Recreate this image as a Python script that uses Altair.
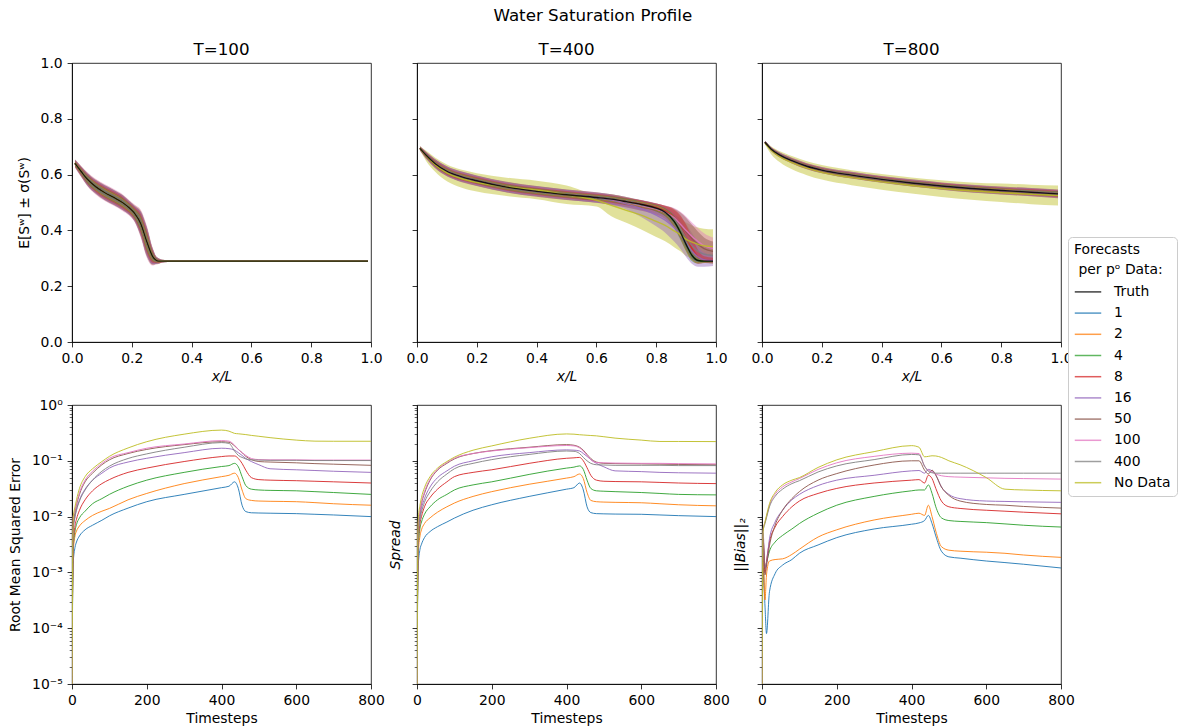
import altair as alt
import pandas as pd

FONT = "DejaVu Sans"

# Forecast groups (number of forecasts per pressure data point) and their colours
SERIES = ["1", "2", "4", "8", "16", "50", "100", "400", "No Data"]
PALETTE = ["#1f77b4", "#ff7f0e", "#2ca02c", "#d62728", "#9467bd",
           "#8c564b", "#e377c2", "#7f7f7f", "#bcbd22"]
DOMAIN = ["Truth"] + SERIES
RANGE = ["#000000"] + PALETTE

# ---------------- water saturation profiles: T = 100 ----------------
X100 = [0.01, 0.03, 0.05, 0.08, 0.11, 0.14, 0.17, 0.19, 0.21, 0.23, 0.25,
        0.27, 0.28, 0.29, 0.30, 0.32, 0.35, 0.99]
TRUTH100 = [0.640, 0.612, 0.585, 0.556, 0.535, 0.518, 0.499, 0.482, 0.460,
            0.424, 0.360, 0.306, 0.294, 0.290, 0.290, 0.290, 0.290, 0.290]
MEAN100 = {}
SD100 = {
    "1":   [0.005, 0.007, 0.009, 0.010, 0.010, 0.010, 0.010, 0.010, 0.011, 0.018, 0.020, 0.011, 0.006, 0.003, 0.002, 0.001, 0, 0],
    "2":   [0.007, 0.009, 0.011, 0.013, 0.013, 0.013, 0.013, 0.013, 0.014, 0.022, 0.026, 0.014, 0.007, 0.004, 0.003, 0.001, 0, 0],
    "4":   [0.008, 0.011, 0.014, 0.015, 0.016, 0.016, 0.016, 0.015, 0.017, 0.027, 0.032, 0.017, 0.009, 0.005, 0.003, 0.002, 0, 0],
    "8":   [0.010, 0.014, 0.017, 0.019, 0.021, 0.021, 0.021, 0.019, 0.022, 0.035, 0.040, 0.022, 0.011, 0.007, 0.004, 0.002, 0.001, 0],
    "16":  [0.013, 0.017, 0.021, 0.024, 0.026, 0.026, 0.026, 0.024, 0.027, 0.043, 0.050, 0.027, 0.014, 0.009, 0.005, 0.003, 0.001, 0],
    "50":  [0.013, 0.017, 0.021, 0.024, 0.026, 0.026, 0.026, 0.024, 0.027, 0.043, 0.050, 0.027, 0.014, 0.009, 0.005, 0.003, 0.001, 0],
    "100": [0.015, 0.020, 0.025, 0.028, 0.030, 0.030, 0.030, 0.028, 0.032, 0.050, 0.058, 0.032, 0.016, 0.010, 0.006, 0.003, 0.001, 0],
    "400": [0.013, 0.017, 0.021, 0.024, 0.026, 0.026, 0.026, 0.024, 0.027, 0.043, 0.050, 0.027, 0.014, 0.009, 0.005, 0.003, 0.001, 0],
    "No Data": [0.014, 0.019, 0.023, 0.026, 0.028, 0.028, 0.028, 0.026, 0.030, 0.047, 0.054, 0.030, 0.015, 0.010, 0.006, 0.003, 0.001, 0],
}

# ---------------- water saturation profiles: T = 400 ----------------
X400 = [0.01, 0.03, 0.06, 0.10, 0.15, 0.20, 0.30, 0.40, 0.50, 0.60, 0.65,
        0.70, 0.75, 0.80, 0.83, 0.86, 0.88, 0.90, 0.92, 0.94, 0.96, 0.99]
TRUTH400 = [0.694, 0.670, 0.640, 0.612, 0.592, 0.578, 0.555, 0.540, 0.528, 0.518, 0.512,
            0.503, 0.493, 0.480, 0.465, 0.432, 0.395, 0.350, 0.310, 0.292, 0.290, 0.290]
MEAN400 = {
    "8":   [0.694, 0.670, 0.640, 0.612, 0.592, 0.578, 0.555, 0.540, 0.528, 0.518, 0.512,
            0.503, 0.494, 0.482, 0.470, 0.445, 0.415, 0.375, 0.335, 0.305, 0.295, 0.292],
    "16":  [0.694, 0.670, 0.640, 0.612, 0.592, 0.578, 0.555, 0.540, 0.528, 0.517, 0.509,
            0.495, 0.478, 0.455, 0.437, 0.410, 0.385, 0.355, 0.325, 0.305, 0.295, 0.292],
    "50":  [0.694, 0.670, 0.640, 0.612, 0.592, 0.578, 0.555, 0.540, 0.528, 0.518, 0.511,
            0.501, 0.489, 0.476, 0.464, 0.443, 0.420, 0.395, 0.370, 0.350, 0.335, 0.325],
    "100": [0.694, 0.670, 0.640, 0.612, 0.592, 0.578, 0.555, 0.540, 0.528, 0.518, 0.511,
            0.501, 0.489, 0.476, 0.465, 0.445, 0.423, 0.400, 0.378, 0.360, 0.345, 0.335],
    "400": [0.694, 0.670, 0.640, 0.612, 0.592, 0.578, 0.555, 0.540, 0.528, 0.518, 0.512,
            0.502, 0.491, 0.478, 0.465, 0.440, 0.410, 0.375, 0.345, 0.325, 0.315, 0.310],
    "No Data": [0.694, 0.668, 0.636, 0.606, 0.585, 0.572, 0.556, 0.545, 0.528, 0.508, 0.490,
                0.472, 0.455, 0.432, 0.418, 0.398, 0.385, 0.368, 0.358, 0.350, 0.345, 0.342],
}
SD400 = {
    "1":   [0.003, 0.004, 0.005, 0.006, 0.006, 0.006, 0.006, 0.006, 0.006, 0.006, 0.006,
            0.006, 0.006, 0.006, 0.008, 0.012, 0.015, 0.016, 0.013, 0.006, 0.003, 0.002],
    "2":   [0.004, 0.005, 0.007, 0.008, 0.008, 0.008, 0.008, 0.008, 0.008, 0.008, 0.008,
            0.008, 0.009, 0.009, 0.011, 0.016, 0.020, 0.021, 0.017, 0.008, 0.004, 0.003],
    "4":   [0.005, 0.007, 0.009, 0.010, 0.010, 0.010, 0.010, 0.010, 0.010, 0.010, 0.010,
            0.011, 0.011, 0.012, 0.014, 0.020, 0.025, 0.026, 0.021, 0.011, 0.006, 0.004],
    "8":   [0.006, 0.009, 0.011, 0.013, 0.013, 0.013, 0.013, 0.013, 0.013, 0.013, 0.013,
            0.013, 0.014, 0.014, 0.018, 0.030, 0.040, 0.045, 0.040, 0.025, 0.012, 0.010],
    "16":  [0.007, 0.011, 0.014, 0.016, 0.017, 0.017, 0.017, 0.017, 0.017, 0.017, 0.018,
            0.020, 0.030, 0.040, 0.045, 0.050, 0.050, 0.050, 0.045, 0.035, 0.025, 0.020],
    "50":  [0.008, 0.012, 0.016, 0.018, 0.019, 0.019, 0.019, 0.019, 0.019, 0.019, 0.019,
            0.019, 0.019, 0.020, 0.024, 0.035, 0.045, 0.050, 0.050, 0.045, 0.040, 0.035],
    "100": [0.008, 0.012, 0.016, 0.018, 0.019, 0.019, 0.019, 0.019, 0.019, 0.019, 0.019,
            0.019, 0.019, 0.020, 0.024, 0.035, 0.045, 0.050, 0.050, 0.048, 0.045, 0.040],
    "400": [0.007, 0.011, 0.015, 0.017, 0.018, 0.018, 0.018, 0.018, 0.018, 0.018, 0.018,
            0.018, 0.018, 0.019, 0.022, 0.032, 0.042, 0.048, 0.045, 0.035, 0.030, 0.028],
    "No Data": [0.008, 0.018, 0.025, 0.030, 0.032, 0.033, 0.033, 0.033, 0.033, 0.022, 0.039,
                0.045, 0.052, 0.056, 0.057, 0.058, 0.059, 0.060, 0.060, 0.060, 0.061, 0.062],
}

# ---------------- water saturation profiles: T = 800 ----------------
X800 = [0.01, 0.03, 0.06, 0.10, 0.15, 0.20, 0.30, 0.40, 0.50, 0.60, 0.70, 0.80, 0.90, 0.99]
TRUTH800 = [0.716, 0.692, 0.670, 0.650, 0.630, 0.616, 0.598, 0.583, 0.570, 0.559,
            0.550, 0.543, 0.537, 0.531]
MEAN800 = {
    "No Data": [0.714, 0.688, 0.664, 0.643, 0.623, 0.608, 0.589, 0.574, 0.561, 0.550,
                0.541, 0.535, 0.529, 0.525],
}
SD800 = {
    "1":   [0.002, 0.003, 0.004, 0.004, 0.004, 0.004, 0.004, 0.004, 0.004, 0.004, 0.004, 0.004, 0.005, 0.005],
    "2":   [0.002, 0.003, 0.004, 0.005, 0.005, 0.005, 0.005, 0.005, 0.005, 0.005, 0.006, 0.006, 0.006, 0.006],
    "4":   [0.003, 0.004, 0.005, 0.006, 0.006, 0.006, 0.007, 0.007, 0.007, 0.007, 0.008, 0.008, 0.008, 0.009],
    "8":   [0.003, 0.005, 0.006, 0.007, 0.008, 0.008, 0.009, 0.009, 0.009, 0.010, 0.010, 0.010, 0.011, 0.011],
    "16":  [0.004, 0.006, 0.007, 0.008, 0.009, 0.009, 0.010, 0.010, 0.011, 0.011, 0.012, 0.012, 0.013, 0.013],
    "50":  [0.004, 0.007, 0.009, 0.010, 0.011, 0.011, 0.012, 0.012, 0.013, 0.013, 0.014, 0.014, 0.015, 0.016],
    "100": [0.004, 0.007, 0.009, 0.010, 0.011, 0.011, 0.012, 0.012, 0.013, 0.013, 0.014, 0.014, 0.015, 0.016],
    "400": [0.004, 0.006, 0.008, 0.009, 0.010, 0.010, 0.011, 0.011, 0.012, 0.012, 0.013, 0.013, 0.014, 0.014],
    "No Data": [0.006, 0.014, 0.020, 0.024, 0.025, 0.026, 0.027, 0.028, 0.029, 0.030, 0.031, 0.033, 0.035, 0.036],
}

# ---------------- error statistics over time ----------------
TSTEPS = [0, 3, 8, 12, 20, 35, 55, 80, 100, 150, 200, 300, 400, 420, 435, 445, 455,
          465, 480, 500, 530, 600, 650, 700, 800]

RMSE = {
    "1":   [1e-5, 0.0014, 0.0028, 0.0035, 0.0045, 0.0058, 0.0070, 0.0086, 0.0103, 0.0142, 0.0185, 0.025, 0.033,
            0.035, 0.042, 0.032, 0.016, 0.0123, 0.0117, 0.0116, 0.0115, 0.0113, 0.0110, 0.0107, 0.0100],
    "2":   [1e-5, 0.0022, 0.0045, 0.0055, 0.0068, 0.0085, 0.0105, 0.0125, 0.0140, 0.020, 0.026, 0.039, 0.052,
            0.055, 0.060, 0.050, 0.030, 0.021, 0.0195, 0.0190, 0.0188, 0.0185, 0.0178, 0.0170, 0.0160],
    "4":   [1e-5, 0.0025, 0.0055, 0.0072, 0.0095, 0.0125, 0.017, 0.021, 0.025, 0.035, 0.045, 0.062, 0.079,
            0.082, 0.090, 0.078, 0.052, 0.036, 0.031, 0.030, 0.0295, 0.029, 0.028, 0.027, 0.025],
    "8":   [1e-5, 0.0029, 0.0068, 0.009, 0.013, 0.020, 0.029, 0.039, 0.046, 0.062, 0.074, 0.097, 0.119,
            0.122, 0.122, 0.110, 0.090, 0.068, 0.050, 0.046, 0.045, 0.044, 0.043, 0.042, 0.040],
    "16":  [1e-5, 0.0050, 0.010, 0.0135, 0.020, 0.031, 0.045, 0.060, 0.074, 0.095, 0.111, 0.140, 0.168,
            0.165, 0.155, 0.140, 0.125, 0.110, 0.097, 0.085, 0.072, 0.069, 0.067, 0.065, 0.062],
    "50":  [1e-5, 0.0066, 0.012, 0.016, 0.025, 0.042, 0.060, 0.085, 0.104, 0.135, 0.160, 0.195, 0.220,
            0.215, 0.185, 0.160, 0.140, 0.120, 0.105, 0.097, 0.095, 0.092, 0.089, 0.087, 0.083],
    "100": [1e-5, 0.010, 0.013, 0.017, 0.027, 0.045, 0.065, 0.090, 0.111, 0.140, 0.168, 0.200, 0.230,
            0.225, 0.190, 0.160, 0.140, 0.125, 0.110, 0.105, 0.104, 0.104, 0.103, 0.103, 0.103],
    "400": [1e-5, 0.0058, 0.010, 0.013, 0.019, 0.030, 0.045, 0.065, 0.080, 0.110, 0.133, 0.175, 0.212,
            0.205, 0.150, 0.125, 0.115, 0.108, 0.104, 0.103, 0.102, 0.102, 0.101, 0.101, 0.101],
    "No Data": [1e-5, 0.009, 0.015, 0.020, 0.032, 0.052, 0.072, 0.097, 0.120, 0.170, 0.220, 0.300, 0.355,
                0.340, 0.310, 0.305, 0.300, 0.295, 0.285, 0.275, 0.260, 0.235, 0.225, 0.224, 0.224],
}

SPREAD = {
    "1":   [1e-5, 0.0012, 0.0026, 0.0032, 0.0042, 0.0054, 0.0066, 0.0080, 0.0094, 0.0130, 0.0163, 0.023, 0.031,
            0.033, 0.040, 0.030, 0.015, 0.0118, 0.0113, 0.0112, 0.0111, 0.0110, 0.0107, 0.0104, 0.0100],
    "2":   [1e-5, 0.0020, 0.0045, 0.0058, 0.0075, 0.0095, 0.012, 0.015, 0.0175, 0.023, 0.028, 0.038, 0.049,
            0.052, 0.058, 0.048, 0.027, 0.0195, 0.0185, 0.0182, 0.0180, 0.0177, 0.0170, 0.0163, 0.0156],
    "4":   [1e-5, 0.0025, 0.0062, 0.008, 0.011, 0.015, 0.020, 0.025, 0.030, 0.037, 0.042, 0.057, 0.074,
            0.077, 0.081, 0.070, 0.045, 0.032, 0.029, 0.0285, 0.028, 0.027, 0.026, 0.025, 0.0245],
    "8":   [1e-5, 0.0030, 0.0075, 0.010, 0.015, 0.022, 0.031, 0.042, 0.052, 0.062, 0.069, 0.090, 0.111,
            0.113, 0.115, 0.100, 0.075, 0.055, 0.045, 0.043, 0.0425, 0.042, 0.041, 0.040, 0.039],
    "16":  [1e-5, 0.0045, 0.010, 0.014, 0.021, 0.034, 0.050, 0.066, 0.080, 0.100, 0.118, 0.140, 0.157,
            0.155, 0.150, 0.135, 0.120, 0.105, 0.090, 0.078, 0.066, 0.064, 0.062, 0.061, 0.060],
    "50":  [1e-5, 0.0060, 0.012, 0.017, 0.026, 0.045, 0.068, 0.090, 0.108, 0.135, 0.152, 0.175, 0.195,
            0.190, 0.175, 0.155, 0.130, 0.110, 0.095, 0.090, 0.089, 0.088, 0.087, 0.086, 0.085],
    "100": [1e-5, 0.0070, 0.013, 0.018, 0.028, 0.047, 0.070, 0.093, 0.111, 0.135, 0.150, 0.172, 0.188,
            0.185, 0.170, 0.150, 0.125, 0.105, 0.093, 0.092, 0.091, 0.090, 0.090, 0.089, 0.088],
    "400": [1e-5, 0.0040, 0.009, 0.012, 0.018, 0.028, 0.042, 0.058, 0.072, 0.090, 0.105, 0.130, 0.150,
            0.148, 0.135, 0.115, 0.100, 0.090, 0.085, 0.084, 0.083, 0.083, 0.083, 0.082, 0.082],
    "No Data": [1e-5, 0.0085, 0.016, 0.022, 0.033, 0.052, 0.074, 0.097, 0.116, 0.155, 0.185, 0.253, 0.303,
                0.300, 0.293, 0.290, 0.287, 0.284, 0.280, 0.270, 0.255, 0.235, 0.222, 0.222, 0.221],
}

BIAS = {
    "1":   [1e-5, 0.0012, 0.00025, 0.00008, 0.00045, 0.00095, 0.00135, 0.0017, 0.0022, 0.0031, 0.0042, 0.0060,
            0.0073, 0.0077, 0.0085, 0.0105, 0.0075, 0.0045, 0.0024, 0.0019, 0.0018, 0.0016, 0.0015, 0.0014, 0.0012],
    "2":   [1e-5, 0.0020, 0.00032, 0.0009, 0.0016, 0.0017, 0.00175, 0.0021, 0.0026, 0.0043, 0.0058, 0.0087,
            0.0110, 0.0115, 0.0105, 0.0160, 0.0100, 0.0055, 0.0029, 0.0025, 0.0024, 0.0023, 0.0022, 0.00205, 0.00186],
    "4":   [1e-5, 0.0030, 0.0012, 0.0015, 0.0024, 0.0035, 0.0046, 0.0060, 0.0075, 0.0115, 0.0160, 0.0230,
            0.0290, 0.0300, 0.0300, 0.0370, 0.0260, 0.0150, 0.0095, 0.0085, 0.0082, 0.0078, 0.0074, 0.0070, 0.0065],
    "8":   [1e-5, 0.0040, 0.0010, 0.0016, 0.0035, 0.0065, 0.0100, 0.0150, 0.0190, 0.0260, 0.0320, 0.0400,
            0.0450, 0.0460, 0.0400, 0.0550, 0.0480, 0.0320, 0.0190, 0.0150, 0.0140, 0.0130, 0.0125, 0.0120, 0.0112],
    "16":  [1e-5, 0.0050, 0.0012, 0.0015, 0.0040, 0.0080, 0.0130, 0.0200, 0.0250, 0.0360, 0.0450, 0.0550,
            0.0660, 0.0670, 0.0600, 0.0700, 0.0660, 0.0560, 0.0340, 0.0250, 0.0210, 0.0190, 0.0187, 0.0184, 0.0180],
    "50":  [1e-5, 0.0040, 0.0009, 0.0013, 0.0030, 0.0070, 0.0130, 0.0210, 0.0280, 0.0450, 0.0590, 0.0840,
            0.1000, 0.1000, 0.0680, 0.0580, 0.0680, 0.0550, 0.0340, 0.0240, 0.0190, 0.0165, 0.0160, 0.0152, 0.0142],
    "100": [1e-5, 0.0060, 0.0080, 0.0100, 0.0160, 0.0250, 0.0340, 0.0420, 0.0480, 0.0700, 0.0920, 0.1200,
            0.1370, 0.1350, 0.0800, 0.0680, 0.0630, 0.0580, 0.0540, 0.0520, 0.0510, 0.0495, 0.0485, 0.0480, 0.0470],
    "400": [1e-5, 0.0055, 0.0075, 0.0095, 0.0150, 0.0230, 0.0310, 0.0390, 0.0440, 0.0630, 0.0810, 0.1050,
            0.1300, 0.1280, 0.0800, 0.0650, 0.0610, 0.0600, 0.0600, 0.0600, 0.0600, 0.0600, 0.0600, 0.0600, 0.0600],
    "No Data": [1e-5, 0.0055, 0.0080, 0.0105, 0.0170, 0.0270, 0.0370, 0.0450, 0.0500, 0.0760, 0.1040, 0.1460,
                0.1870, 0.1750, 0.1180, 0.1200, 0.1230, 0.1220, 0.1150, 0.1000, 0.0850, 0.0500, 0.0310, 0.0300, 0.0290],
}

PANEL_W, PANEL_H = 299, 279
TICK = 4.9
MINOR_TICK = 2.8

color = alt.Color(
    "series:N",
    scale=alt.Scale(domain=DOMAIN, range=RANGE),
    legend=alt.Legend(title=["Forecasts", "\u200b per pᵒ Data:"]),
)


def profile_panel(x, truth, means, sds, title, first):
    band_rows, line_rows = [], []
    # widest groups first so the narrower envelopes sit on top
    for s in reversed(SERIES):
        m = means.get(s, truth)
        for xi, mi, si in zip(x, m, sds[s]):
            band_rows.append({"x": xi, "lo": mi - si, "hi": mi + si, "series": s})
    for s in SERIES:
        m = means.get(s, truth)
        for xi, mi in zip(x, m):
            line_rows.append({"x": xi, "y": mi, "series": s})
    for xi, ti in zip(x, truth):
        line_rows.append({"x": xi, "y": ti, "series": "Truth"})

    xenc = alt.X("x:Q", scale=alt.Scale(domain=[0, 1], nice=False, zero=False),
                 axis=alt.Axis(values=[0, 0.2, 0.4, 0.6, 0.8, 1.0], format=".1f",
                               title="x/L", titleFontStyle="italic"))
    # the shared-y panels keep (invisible) labels so all three titles line up
    yaxis = alt.Axis(values=[0, 0.2, 0.4, 0.6, 0.8, 1.0], format=".1f",
                     labelOpacity=1 if first else 0,
                     title="E[Sʷ] ± σ(Sʷ)" if first else "")
    yscale = alt.Scale(domain=[0, 1], nice=False)

    band = alt.Chart(pd.DataFrame(band_rows)).mark_area(
        opacity=0.45, interpolate="monotone", clip=True
    ).encode(x=xenc, y=alt.Y("lo:Q", scale=yscale, axis=yaxis), y2="hi:Q", color=color)
    lines = alt.Chart(pd.DataFrame(line_rows)).mark_line(
        strokeWidth=1.4, opacity=0.85, interpolate="monotone", clip=True
    ).encode(x=xenc, y=alt.Y("y:Q", scale=yscale, axis=yaxis), color=color)
    return alt.layer(band, lines).properties(
        width=PANEL_W, height=PANEL_H,
        title=alt.TitleParams(title, fontSize=16.7, fontWeight="normal",
                              baseline="alphabetic", offset=6.6, dy=22.7),
    )


SUP = {0: "⁰", 1: "¹", 2: "²", 3: "³", 4: "⁴", 5: "⁵"}
EXPO = "round(log(datum.value)/LN10)"
IS_DECADE = f"abs(log(datum.value)/LN10 - {EXPO}) < 0.01"
LABEL_EXPR = "''"
for e in range(5, -1, -1):
    txt = "10" + ("⁻" if e > 0 else "") + SUP[e]
    LABEL_EXPR = f"{EXPO} == {-e} ? '{txt}' : ({LABEL_EXPR})"
LABEL_EXPR = f"{IS_DECADE} ? ({LABEL_EXPR}) : ''"
LOG_TICKS = [m * 10.0 ** e for e in range(-5, 0) for m in range(1, 10)] + [1.0]


def metric_panel(values, ytitle, first, italic):
    rows = []
    for s in SERIES:
        for t, v in zip(TSTEPS, values[s]):
            rows.append({"t": t, "v": v, "series": s})
    yaxis = alt.Axis(
        values=LOG_TICKS, labelExpr=LABEL_EXPR, labels=first, title=ytitle,
        titleFontStyle="italic" if italic else "normal",
        tickSize={"condition": {"test": IS_DECADE, "value": TICK}, "value": MINOR_TICK},
        tickWidth={"condition": {"test": IS_DECADE, "value": 0.8}, "value": 0.6},
    )
    return alt.Chart(pd.DataFrame(rows)).mark_line(
        strokeWidth=1.0, opacity=0.9, interpolate="monotone", clip=True
    ).encode(
        x=alt.X("t:Q", scale=alt.Scale(domain=[0, 800], nice=False),
                axis=alt.Axis(values=[0, 200, 400, 600, 800], format="d", title="Timesteps")),
        y=alt.Y("v:Q", scale=alt.Scale(type="log", domain=[1e-5, 1], nice=False), axis=yaxis),
        color=color,
    ).properties(width=PANEL_W, height=PANEL_H)


chart = alt.concat(
    profile_panel(X100, TRUTH100, MEAN100, SD100, "T=100", True),
    profile_panel(X400, TRUTH400, MEAN400, SD400, "T=400", False),
    profile_panel(X800, TRUTH800, MEAN800, SD800, "T=800", False),
    metric_panel(RMSE, "Root Mean Squared Error", True, False),
    metric_panel(SPREAD, "Spread", False, True),
    metric_panel(BIAS, "||Bias||₂", False, True),
    columns=3, spacing={"row": 63, "column": 46}, bounds="flush",
).properties(
    title=alt.TitleParams("Water Saturation Profile", fontSize=16.7, fontWeight="normal",
                          anchor="middle", offset=17),
    padding={"left": 8, "top": 8, "right": 0, "bottom": 0},
).configure(font=FONT).configure_view(
    stroke="black", strokeWidth=0.8
).configure_axis(
    labelFont=FONT, titleFont=FONT, labelFontSize=13.9, titleFontSize=13.9,
    titleFontWeight="normal", labelColor="black", titleColor="black",
    tickColor="black", domainColor="black", tickWidth=0.8, domainWidth=0.8,
    tickSize=TICK, labelPadding=4.9, titlePadding=5.6, grid=False,
    labelFlush=False, labelOverlap=False,
).configure_axisX(
    titlePadding=3.5
).configure_axisY(
    titlePadding=9
).configure_title(
    font=FONT, color="black"
).configure_legend(
    orient="none", legendX=996, legendY=174,
    fillColor="white", strokeColor="#cccccc", cornerRadius=4, padding=6,
    titleFont=FONT, titleFontSize=13.9, titleFontWeight="normal", titleColor="black",
    titleLineHeight=20, titlePadding=1,
    labelFont=FONT, labelFontSize=13.9, labelColor="black", labelOffset=12,
    symbolType="stroke", symbolStrokeWidth=1.5, symbolSize=700, symbolOpacity=0.75,
    rowPadding=0.2,
)

chart.save("out.html", embed_options={"renderer": "svg", "actions": False})
